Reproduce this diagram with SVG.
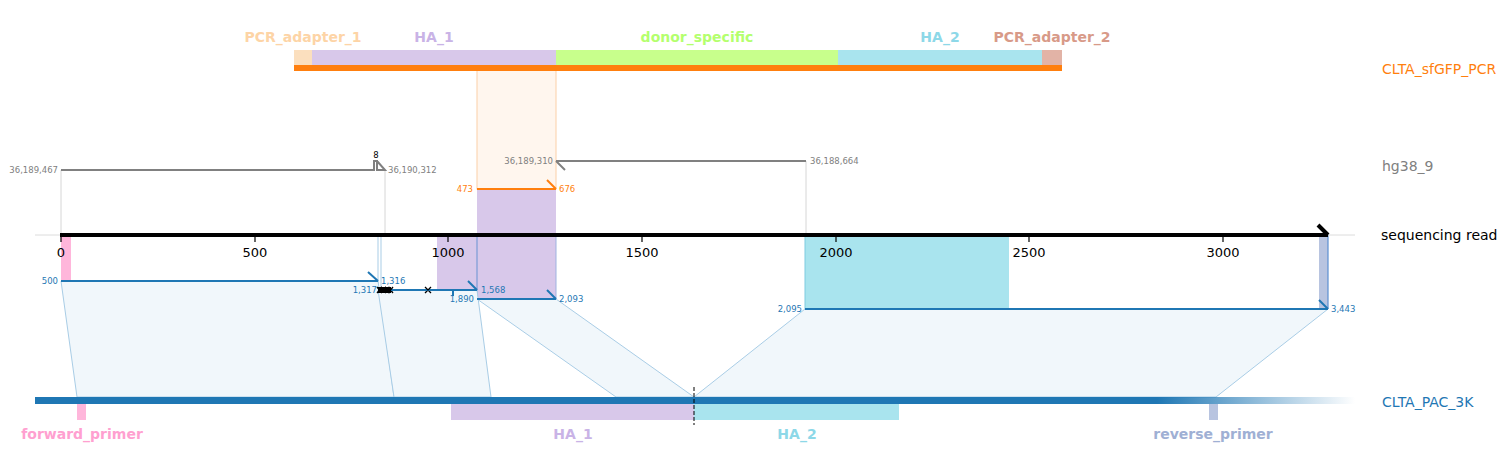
<svg xmlns="http://www.w3.org/2000/svg" width="1507" height="470" viewBox="0 0 1507 470">
<style>
text{font-family:"DejaVu Sans","Liberation Sans",sans-serif}
.pos{font-size:8.5px}
.g{fill:#808080}
.o{fill:#ff7f0e}
.b{fill:#1f77b4}
.feat{font-size:14px;font-weight:bold;text-anchor:middle}
.axl{font-size:13px;text-anchor:middle;fill:#000}
.track{font-size:14px}
.poly{fill:#f1f7fb;stroke:#a9cde6;stroke-width:1}
.bl{stroke:#1f77b4;stroke-width:2;fill:none}
.gl{stroke:#808080;stroke-width:2;fill:none}
.vg{stroke:#d6d6d6;stroke-width:1}
.x{stroke:#000;stroke-width:1.3}
</style>
<defs>
<linearGradient id="fade" gradientUnits="userSpaceOnUse" x1="35" y1="0" x2="1355" y2="0">
<stop offset="0" stop-color="#1f77b4"/>
<stop offset="0.85" stop-color="#1f77b4"/>
<stop offset="1" stop-color="#1f77b4" stop-opacity="0"/>
</linearGradient>
</defs>
<rect width="1507" height="470" fill="#fff"/>

<g id="shading">
<rect x="477" y="70" width="79" height="119" fill="#fff6ee" stroke="#fbd0a8" stroke-width="1"/>
<rect x="477" y="189" width="79" height="110" fill="#d8c8ea"/>
<rect x="437" y="235" width="40" height="55" fill="#d8c8ea"/>
<line x1="477" y1="235" x2="477" y2="299" stroke="#8ea5da" stroke-width="1.5"/>
<line x1="556" y1="235" x2="556" y2="299" stroke="#9fb3e0" stroke-width="1"/>
<rect x="805" y="235" width="204" height="74" fill="#a9e4ee"/>
<line x1="805" y1="235" x2="805" y2="309" stroke="#7ecbe0" stroke-width="1"/>
<rect x="61" y="235" width="10" height="46" fill="#ffb6db"/>
<rect x="1319" y="235" width="9" height="74" fill="#b8c4e0"/>
<line x1="1328" y1="235" x2="1328" y2="309" stroke="#5b8fd0" stroke-width="1.2"/>
<line x1="378" y1="235" x2="378" y2="290" stroke="#a9cde6" stroke-width="1"/>
<line x1="381" y1="235" x2="381" y2="290" stroke="#a9cde6" stroke-width="1"/>
</g>

<g id="connectors">
<polygon class="poly" points="61,281 378,281 394,397 77,397"/>
<polygon class="poly" points="378,290 477,290 491,397 394,397"/>
<polygon class="poly" points="477,299 556,299 694,397 616,397"/>
<polygon class="poly" points="805,309 1328,309 1216,397 694,397"/>
<line x1="61" y1="170" x2="61" y2="235" class="vg"/>
<line x1="385" y1="170" x2="385" y2="235" class="vg"/>
<line x1="806" y1="161" x2="806" y2="235" class="vg"/>
</g>

<g id="CLTA_sfGFP_PCR">
<rect x="294" y="50" width="18" height="15" fill="#fbdfbe"/>
<rect x="312" y="50" width="244" height="15" fill="#d8c8ea"/>
<rect x="556" y="50" width="282" height="15" fill="#c8ff8c"/>
<rect x="838" y="50" width="204" height="15" fill="#a9e4ee"/>
<rect x="1042" y="50" width="20" height="15" fill="#e2b3a6"/>
<rect x="294" y="65" width="768" height="6" fill="#ff7f0e"/>
<text class="feat" x="303" y="42" fill="#fdd4a6">PCR_adapter_1</text>
<text class="feat" x="434" y="42" fill="#c9b3e6">HA_1</text>
<text class="feat" x="697" y="42" fill="#b4ff6e">donor_specific</text>
<text class="feat" x="940" y="42" fill="#8dd8e8">HA_2</text>
<text class="feat" x="1052" y="42" fill="#d89a88">PCR_adapter_2</text>
<text class="track o" x="1382" y="74">CLTA_sfGFP_PCR</text>
</g>

<g id="CLTA_sfGFP_PCR_alignment">
<line x1="477" y1="189" x2="556" y2="189" stroke="#ff7f0e" stroke-width="2"/>
<line x1="556" y1="189" x2="547" y2="180" stroke="#ff7f0e" stroke-width="2"/>
<text class="pos o" x="473" y="192" text-anchor="end">473</text>
<text class="pos o" x="559" y="192">676</text>
</g>

<g id="hg38_9">
<polyline class="gl" points="61,170 374,170 374,161 377,161 377,170 385,170 377,161"/>
<text x="376" y="158" font-size="8.5" text-anchor="middle" fill="#000">8</text>
<text class="pos g" x="58" y="173" text-anchor="end">36,189,467</text>
<text class="pos g" x="388" y="173">36,190,312</text>
<line class="gl" x1="556" y1="161" x2="806" y2="161"/>
<line class="gl" x1="556" y1="161" x2="565" y2="170"/>
<text class="pos g" x="553" y="164" text-anchor="end">36,189,310</text>
<text class="pos g" x="810" y="164">36,188,664</text>
<text class="track g" x="1382" y="171">hg38_9</text>
</g>

<g id="sequencing_read">
<line x1="35" y1="235" x2="1355" y2="235" stroke="#dcdcdc" stroke-width="1"/>
<line x1="60" y1="235" x2="1328" y2="235" stroke="#000" stroke-width="4"/>
<line x1="1318" y1="225" x2="1328" y2="235" stroke="#000" stroke-width="4"/>
<g stroke="#000" stroke-width="1.2">
<line x1="61" y1="235" x2="61" y2="242"/>
<line x1="255" y1="235" x2="255" y2="242"/>
<line x1="448" y1="235" x2="448" y2="242"/>
<line x1="642" y1="235" x2="642" y2="242"/>
<line x1="836" y1="235" x2="836" y2="242"/>
<line x1="1029" y1="235" x2="1029" y2="242"/>
<line x1="1223" y1="235" x2="1223" y2="242"/>
</g>
<text class="axl" x="61" y="257">0</text>
<text class="axl" x="255" y="257">500</text>
<text class="axl" x="448" y="257">1000</text>
<text class="axl" x="642" y="257">1500</text>
<text class="axl" x="836" y="257">2000</text>
<text class="axl" x="1029" y="257">2500</text>
<text class="axl" x="1223" y="257">3000</text>
<text class="track" x="1381" y="240" fill="#000">sequencing read</text>
</g>

<g id="CLTA_PAC_3K_alignments">
<line class="bl" x1="61" y1="281" x2="378" y2="281"/>
<line class="bl" x1="378" y1="281" x2="368" y2="272"/>
<text class="pos b" x="58" y="284" text-anchor="end">500</text>
<text class="pos b" x="381" y="284">1,316</text>
<line class="bl" x1="378" y1="290" x2="477" y2="290"/>
<line class="bl" x1="477" y1="290" x2="468" y2="281"/>
<line class="bl" x1="453" y1="290" x2="453" y2="296" stroke-width="1.5"/>
<text class="pos b" x="377" y="293" text-anchor="end">1,317</text>
<text class="pos b" x="481" y="293">1,568</text>
<rect x="378" y="287" width="13" height="6" fill="#000"/>
<path class="x" d="M377,287 l5,6 M382,287 l-5,6 M381,287 l5,6 M386,287 l-5,6 M385,287 l5,6 M390,287 l-5,6 M388,287 l5,6 M393,287 l-5,6 M425,287 l6,6 M431,287 l-6,6"/>
<line class="bl" x1="477" y1="299" x2="556" y2="299"/>
<line class="bl" x1="556" y1="299" x2="547" y2="290"/>
<text class="pos b" x="474" y="302" text-anchor="end">1,890</text>
<text class="pos b" x="559" y="302">2,093</text>
<line class="bl" x1="805" y1="309" x2="1328" y2="309"/>
<line class="bl" x1="1328" y1="309" x2="1319" y2="300"/>
<text class="pos b" x="802" y="312" text-anchor="end">2,095</text>
<text class="pos b" x="1331" y="312">3,443</text>
</g>

<g id="CLTA_PAC_3K">
<rect x="35" y="397" width="1320" height="7" fill="url(#fade)"/>
<rect x="77" y="404" width="9" height="16" fill="#ffb6db"/>
<rect x="451" y="404" width="243" height="16" fill="#d8c8ea"/>
<rect x="694" y="404" width="205" height="16" fill="#a9e4ee"/>
<rect x="1209" y="404" width="9" height="16" fill="#b8c4e0"/>
<line x1="694" y1="387" x2="694" y2="425" stroke="#000" stroke-width="1" stroke-dasharray="4,2"/>
<text class="feat" x="82" y="439" fill="#ffa0d0">forward_primer</text>
<text class="feat" x="573" y="439" fill="#c9b3e6">HA_1</text>
<text class="feat" x="797" y="439" fill="#8dd8e8">HA_2</text>
<text class="feat" x="1213" y="439" fill="#9fb0d4">reverse_primer</text>
<text class="track b" x="1382" y="407">CLTA_PAC_3K</text>
</g>
</svg>
